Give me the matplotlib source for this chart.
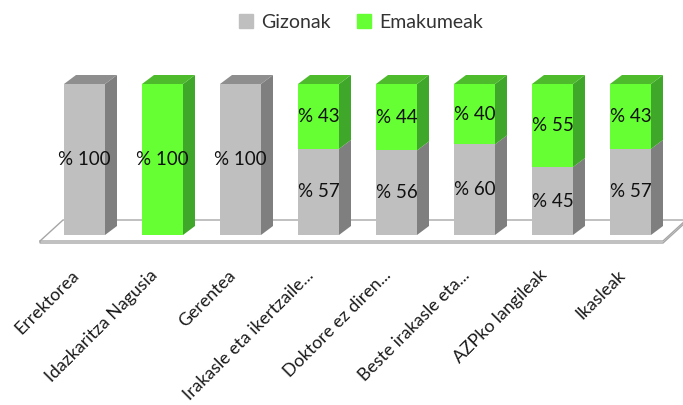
import matplotlib
matplotlib.use("Agg")
import matplotlib.pyplot as plt
from matplotlib.patches import Polygon, Patch

categories = ["Errektorea", "Idazkaritza Nagusia", "Gerentea", "Irakasle eta ikertzaile...",
              "Doktore ez diren...", "Beste irakasle eta...", "AZPko langileak", "Ikasleak"]
gizonak = [100, 0, 100, 57, 56, 60, 45, 57]
emakumeak = [0, 100, 0, 43, 44, 40, 55, 43]
series_names = ["Gizonak", "Emakumeak"]

FONT = "Lato"
W, H = 683, 405
fig = plt.figure(figsize=(W / 100, H / 100), dpi=100)
ax = fig.add_axes([0, 0, 1, 1])

# pixel geometry -> data coords
PX_X = 78.0      # px per category
X0 = 84.5        # px of first category center
PX_Y = 1.51      # px per percent
Y0 = 235.0       # px of zero line (from top)
ax.set_xlim(-X0 / PX_X, (W - X0) / PX_X)
ax.set_ylim(-(H - Y0) / PX_Y, Y0 / PX_Y)
ax.axis("off")

bw = 41 / PX_X
ddx = 12 / PX_X
ddy = 9 / PX_Y

# floor
fy_front = -(241 - Y0) / PX_Y
fy_back = -(220 - Y0) / PX_Y
fl = (40 - X0) / PX_X
fr = (663 - X0) / PX_X
bl = (63 - X0) / PX_X
br = (686 - X0) / PX_X
th = 2 / PX_Y
ax.add_patch(Polygon([(fl, fy_front - th), (fr, fy_front - th), (br, fy_back - th), (br, fy_back),
                      (bl, fy_back), (fl, fy_front)], closed=True, facecolor="white",
                     edgecolor="#A6A6A6", lw=1.0, zorder=1))
ax.plot([fl, fr, br], [fy_front, fy_front, fy_back], color="#A6A6A6", lw=1.0, zorder=1)

cols = {"front": ["#BFBFBF", "#66FF33"],
        "side": ["#7F7F7F", "#3FA82A"],
        "top": ["#8E8E8E", "#4DBB2C"]}

x = list(range(len(categories)))
b1 = ax.bar(x, gizonak, width=bw, color=cols["front"][0], zorder=3, label=series_names[0])
b2 = ax.bar(x, emakumeak, width=bw, bottom=gizonak, color=cols["front"][1], zorder=3,
            label=series_names[1])

for i in x:
    segs = [(0, gizonak[i], 0), (gizonak[i], gizonak[i] + emakumeak[i], 1)]
    right = i + bw / 2
    left = i - bw / 2
    total = gizonak[i] + emakumeak[i]
    for lo, hi, s in segs:
        if hi - lo <= 0:
            continue
        ax.add_patch(Polygon([(right, lo), (right + ddx, lo + ddy), (right + ddx, hi + ddy), (right, hi)],
                             closed=True, facecolor=cols["side"][s], edgecolor="none", zorder=3))
        if hi == total:
            ax.add_patch(Polygon([(left, hi), (left + ddx, hi + ddy), (right + ddx, hi + ddy), (right, hi)],
                                 closed=True, facecolor=cols["top"][s], edgecolor="none", zorder=3))
        ax.text(i, (lo + hi) / 2, "% " + str(hi - lo), ha="center", va="center",
                fontsize=13.5, family=FONT, color="#111111", zorder=5)

# category labels
ly = -(267 - Y0) / PX_Y
for i, c in zip(x, categories):
    ax.text(i - 0.17, ly, c, rotation=45, rotation_mode="anchor", ha="right", va="top",
            fontsize=12.8, family=FONT, color="#1a1a1a")

leg = ax.legend(handles=[Patch(color=cols["front"][0]), Patch(color=cols["front"][1])],
                labels=series_names, loc="center", bbox_to_anchor=(361 / W, 1 - 22 / H),
                bbox_transform=fig.transFigure, ncol=2, frameon=False,
                prop={"family": FONT, "size": 14}, handlelength=0.7, handleheight=0.7,
                handletextpad=0.4, columnspacing=1.4, labelcolor="#333333")

fig.savefig("out.png", dpi=100)
